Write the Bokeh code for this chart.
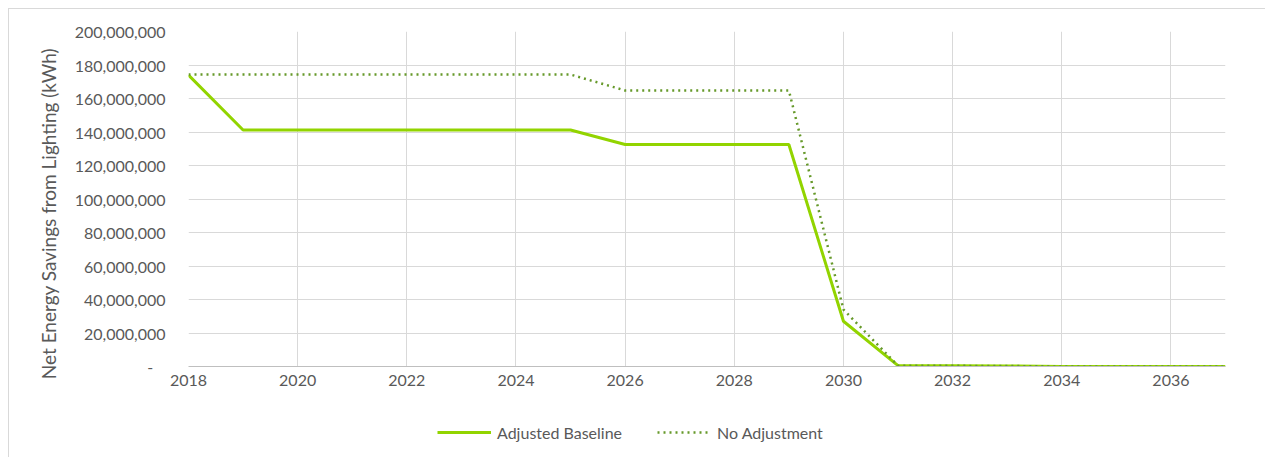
from bokeh.plotting import figure
from bokeh.layouts import column
from bokeh.models import FixedTicker, CustomJSTickFormatter, Range1d, Legend, LegendItem
from bokeh.embed import file_html
from bokeh.resources import INLINE

years = [2018, 2019, 2020, 2021, 2022, 2023, 2024, 2025, 2026, 2027,
         2028, 2029, 2030, 2031, 2032, 2033, 2034, 2035, 2036, 2037]
adjusted_baseline = [174.0e6, 141.2e6, 141.2e6, 141.2e6, 141.2e6, 141.2e6, 141.2e6, 141.2e6,
                     132.5e6, 132.5e6, 132.5e6, 132.5e6, 27.0e6, 0.5e6, 0.4e6, 0.3e6,
                     0.0, 0.0, 0.0, 0.0]
no_adjustment = [174.3e6, 174.3e6, 174.3e6, 174.3e6, 174.3e6, 174.3e6, 174.3e6, 174.3e6,
                 164.8e6, 164.8e6, 164.8e6, 164.8e6, 34.0e6, 0.5e6, 0.4e6, 0.3e6,
                 0.0, 0.0, 0.0, 0.0]
x_ticks = [2018, 2020, 2022, 2024, 2026, 2028, 2030, 2032, 2034, 2036]
y_ticks = [0, 20e6, 40e6, 60e6, 80e6, 100e6, 120e6, 140e6, 160e6, 180e6, 200e6]
y_label = "Net Energy Savings from Lighting (kWh)"
series_names = ["Adjusted Baseline", "No Adjustment"]

FONT = "Lato"
TXT = "#595959"
GRID = "#d9d9d9"
C1 = "#92D400"
C2 = "#66992A"

p = figure(width=1264, height=397, output_backend="svg", toolbar_location=None,
           x_range=Range1d(2018, 2037), y_range=Range1d(0, 200e6),
           min_border_left=179, min_border_right=48, min_border_top=22, min_border_bottom=40)
p.styles = {"border-top": "1px solid #d9d9d9", "border-left": "1px solid #d9d9d9"}
p.outline_line_color = None
p.background_fill_color = "white"
p.border_fill_color = "white"

# grids
p.xgrid.ticker = FixedTicker(ticks=x_ticks)
p.ygrid.ticker = FixedTicker(ticks=y_ticks)
p.xgrid.grid_line_color = GRID
p.ygrid.grid_line_color = GRID
p.xgrid.grid_line_width = 1
p.ygrid.grid_line_width = 1

# x axis
xa = p.xaxis[0]
xa.ticker = FixedTicker(ticks=x_ticks)
xa.axis_line_color = "#bfbfbf"
xa.major_tick_line_color = None
xa.minor_tick_line_color = None
xa.major_tick_out = 0
xa.major_label_standoff = 8
xa.major_label_text_font = FONT
xa.major_label_text_font_size = "16px"
xa.major_label_text_color = TXT

# y axis
ya = p.yaxis[0]
ya.ticker = FixedTicker(ticks=y_ticks)
ya.formatter = CustomJSTickFormatter(code="""
    const v = Math.round(tick);
    if (v === 0) { return "-\u00a0\u00a0\u00a0"; }
    return v.toLocaleString("en-US");
""")
ya.axis_line_color = None
ya.major_tick_line_color = None
ya.minor_tick_line_color = None
ya.major_tick_out = 0
ya.major_label_standoff = 23
ya.major_label_text_font = FONT
ya.major_label_text_font_size = "16px"
ya.major_label_text_color = TXT
ya.axis_label = y_label + "\u00a0" * 6
ya.axis_label_text_font = FONT
ya.axis_label_text_font_size = "19px"
ya.axis_label_text_font_style = "normal"
ya.axis_label_text_color = TXT
ya.axis_label_standoff = 12

p.line(years, adjusted_baseline, line_color=C1, line_width=3)
p.line(years, no_adjustment, line_color=C2, line_width=2.5, line_dash="2 4")

# legend strip below the chart (its lines hold one point outside the view,
# so only their legend swatches are drawn)
p2 = figure(width=1264, height=54, output_backend="svg", toolbar_location=None,
            x_range=Range1d(0, 1), y_range=Range1d(0, 1),
            x_axis_type=None, y_axis_type=None,
            min_border_left=0, min_border_right=0, min_border_top=0, min_border_bottom=0)
p2.styles = {"border-left": "1px solid #d9d9d9"}
p2.outline_line_color = None
p2.background_fill_color = "white"
p2.border_fill_color = "white"
l1 = p2.line([5, 6], [5, 6], line_color=C1, line_width=3)
l2 = p2.line([5, 6], [5, 6], line_color=C2, line_width=2.5, line_dash="2 4")

legend = Legend(items=[LegendItem(label=series_names[0], renderers=[l1]),
                       LegendItem(label=series_names[1], renderers=[l2])],
                orientation="horizontal", location=(249, 17))
legend.background_fill_alpha = 0
legend.border_line_alpha = 0
legend.padding = 0
legend.margin = 0
legend.spacing = 35
legend.glyph_width = 54
legend.glyph_height = 20
legend.label_standoff = 6
legend.label_text_font = FONT
legend.label_text_font_size = "16px"
legend.label_text_color = TXT
p2.add_layout(legend, "center")

layout = column(p, p2, spacing=0)
layout.styles = {"margin-left": "8px", "margin-top": "8px"}

open("out.html", "w").write(file_html(layout, INLINE))
